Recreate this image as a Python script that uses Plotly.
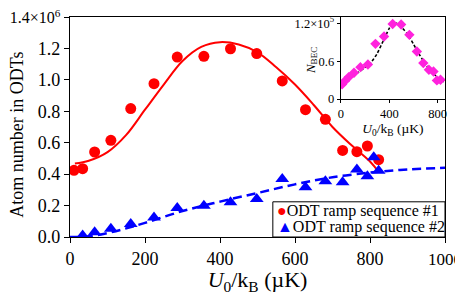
import plotly.graph_objects as go

# ---- data ----
u0_seq1 = [10.7, 33.7, 65.7, 109, 162, 224, 286, 357, 428, 498, 566, 628, 681, 727, 765, 793, 823]
atoms_seq1 = [0.424, 0.435, 0.541, 0.615, 0.817, 0.976, 1.145, 1.150, 1.198, 1.167, 0.993, 0.810, 0.749, 0.551, 0.543, 0.579, 0.492]  # x1e6

u0_seq2 = [33.7, 65.7, 109, 162, 224, 286, 357, 428, 498, 566, 628, 681, 727, 765, 793, 810, 823]
atoms_seq2 = [0.010, 0.030, 0.052, 0.083, 0.124, 0.184, 0.199, 0.221, 0.242, 0.369, 0.316, 0.354, 0.348, 0.429, 0.386, 0.507, 0.422]  # x1e6

fit1_x = [13, 50, 100, 150, 200, 250, 300, 350, 400, 450, 500, 550, 600, 650, 700, 750, 800, 823]
fit1_y = [0.467, 0.485, 0.54, 0.65, 0.81, 0.97, 1.12, 1.21, 1.24, 1.225, 1.175, 1.08, 0.97, 0.84, 0.70, 0.585, 0.48, 0.414]

fit2_x = [0, 40, 100, 150, 200, 300, 400, 500, 600, 700, 800, 823, 900, 1000]
fit2_y = [0, 0.002, 0.025, 0.055, 0.09, 0.165, 0.225, 0.28, 0.335, 0.38, 0.41, 0.415, 0.43, 0.44]

inset_u0 = [10.7, 33.7, 65.7, 109, 162, 224, 286, 357, 428, 498, 566, 628, 681, 727, 765, 793, 823]
inset_nbec = [0.232, 0.284, 0.347, 0.417, 0.505, 0.548, 0.874, 0.99, 1.19, 1.18, 1.017, 0.753, 0.569, 0.464, 0.437, 0.295, 0.306]  # x1e5

inset_fit_x = [0, 50, 100, 150, 200, 250, 300, 350, 400, 430, 460, 500, 550, 600, 650, 700, 750, 800, 850]
inset_fit_y = [0.21, 0.29, 0.36, 0.43, 0.50, 0.58, 0.72, 0.92, 1.12, 1.20, 1.20, 1.14, 1.03, 0.87, 0.70, 0.55, 0.43, 0.34, 0.27]

main_xticks = [0, 200, 400, 600, 800, 1000]
main_xticktext = ["0", "200", "400", "600", "800", "<span style='font-size:17px'>1000</span>"]
main_yticks = [0, 0.2, 0.4, 0.6, 0.8, 1.0, 1.2, 1.4]
main_yticktext = ["0.0", "0.2", "0.4", "0.6", "0.8", "1.0", "1.2",
                  "<span style='font-size:16px'>1.4×10<sup>6</sup></span>"]
inset_xticks = [0, 400, 800]
inset_yticks = [0, 0.6, 1.2]
inset_yticktext = ["0", "0.6", "1.2×10<sup>5</sup>"]

legend_labels = ["ODT ramp sequence #1", "ODT ramp sequence #2"]

RED = "#ff0000"
BLUE = "#0000ff"
MAG = "#ff22dd"
FONT = "Liberation Serif"

fig = go.Figure()

fig.add_trace(go.Scatter(x=fit1_x, y=[v * 1e6 for v in fit1_y], mode="lines",
                         line=dict(color=RED, width=2, shape="spline", smoothing=1),
                         showlegend=False, hoverinfo="skip"))
fig.add_trace(go.Scatter(x=fit2_x, y=[v * 1e6 for v in fit2_y], mode="lines",
                         line=dict(color=BLUE, width=2.5, dash="9px,5px", shape="spline", smoothing=1),
                         showlegend=False, hoverinfo="skip"))
fig.add_trace(go.Scatter(x=u0_seq1, y=[v * 1e6 for v in atoms_seq1], mode="markers",
                         marker=dict(color=RED, size=11, symbol="circle"),
                         name=legend_labels[0], showlegend=False))
fig.add_trace(go.Scatter(x=u0_seq2, y=[v * 1e6 for v in atoms_seq2], mode="markers",
                         marker=dict(color=BLUE, size=12, symbol="triangle-up"),
                         name=legend_labels[1], showlegend=False))

# inset
fig.add_trace(go.Scatter(x=inset_fit_x, y=[v * 1e5 for v in inset_fit_y], mode="lines",
                         line=dict(color="black", width=1.6, dash="3px,2px", shape="spline", smoothing=0.6),
                         xaxis="x2", yaxis="y2", showlegend=False, hoverinfo="skip"))
fig.add_trace(go.Scatter(x=inset_u0, y=[v * 1e5 for v in inset_nbec], mode="markers",
                         marker=dict(color=MAG, size=8, symbol="diamond"),
                         xaxis="x2", yaxis="y2", showlegend=False))

axis_common = dict(showline=True, linecolor="black", linewidth=1.3, mirror=True, automargin=False,
                   showgrid=False, zeroline=False, ticks="outside", tickcolor="black",
                   ticklabeloverflow="allow")

# The page body has an 8px margin; target plot area in screenshot px: x 70..445.3, y 16.7..236.7
OFF = 8
W, H = 463 - OFF, 295 - OFF
X0, X1, Y0, Y1 = 70.0, 445.3, 16.7, 236.7
L, R, T, B = X0 - OFF, W - (X1 - OFF), Y0 - OFF, H - (Y1 - OFF)
pw, ph = X1 - X0, Y1 - Y0


def px(xp):
    return (xp - X0) / pw


def py(yp):
    return (Y1 - yp) / ph


annotations = [
    dict(text="Atom number in ODTs", x=px(17.5), y=py(135), xref="paper", yref="paper",
         textangle=-90, showarrow=False, xanchor="center", yanchor="middle", font=dict(size=18)),
    dict(text="<i>N</i><sub>BEC</sub>", x=px(311), y=py(60), xref="paper", yref="paper",
         textangle=-90, showarrow=False, xanchor="center", yanchor="middle", font=dict(size=13)),
    dict(text=f"<span style='color:{RED}'>●</span>{legend_labels[0]}", x=px(275), y=py(210.5),
         xref="paper", yref="paper", showarrow=False, xanchor="left", yanchor="middle",
         font=dict(size=16)),
    dict(text=f"<span style='color:{BLUE}'>▲</span>{legend_labels[1]}", x=px(275), y=py(226.5),
         xref="paper", yref="paper", showarrow=False, xanchor="left", yanchor="middle",
         font=dict(size=16)),
]

shapes = [
    dict(type="rect", xref="paper", yref="paper", x0=px(273), x1=1, y0=0, y1=py(201.5),
         line=dict(color="black", width=1), fillcolor="white", layer="above"),
]

fig.update_layout(
    width=W, height=H,
    margin=dict(l=L, r=R, t=T, b=B, autoexpand=False),
    plot_bgcolor="white", paper_bgcolor="white",
    font=dict(family=FONT, size=18, color="black"),
    showlegend=False,
    xaxis=dict(range=[0, 1000], tickvals=main_xticks, ticktext=main_xticktext, ticklen=5, tickwidth=1.3,
               title=dict(text="<i>U</i><sub>0</sub>/k<sub>B</sub> (µK)", standoff=3),
               domain=[0, 1], **axis_common),
    yaxis=dict(range=[0, 1.4e6], tickvals=[v * 1e6 for v in main_yticks], ticktext=main_yticktext,
               ticklen=5, tickwidth=1.3, domain=[0, 1], **axis_common),
    xaxis2=dict(range=[0, 860], tickvals=inset_xticks, ticklen=3, tickwidth=1,
                tickfont=dict(size=12.5), anchor="y2", domain=[px(341), 1.0],
                title=dict(text="<i>U</i><sub>0</sub>/k<sub>B</sub> (µK)", font=dict(size=13.5), standoff=2),
                **axis_common),
    yaxis2=dict(range=[0, 1.3e5], tickvals=[v * 1e5 for v in inset_yticks], ticktext=inset_yticktext,
                ticklen=3, tickwidth=1, tickfont=dict(size=12.5), anchor="x2", domain=[py(98.7), 1.0],
                **axis_common),
    annotations=annotations,
    shapes=shapes,
)

fig.write_html("out.html")
